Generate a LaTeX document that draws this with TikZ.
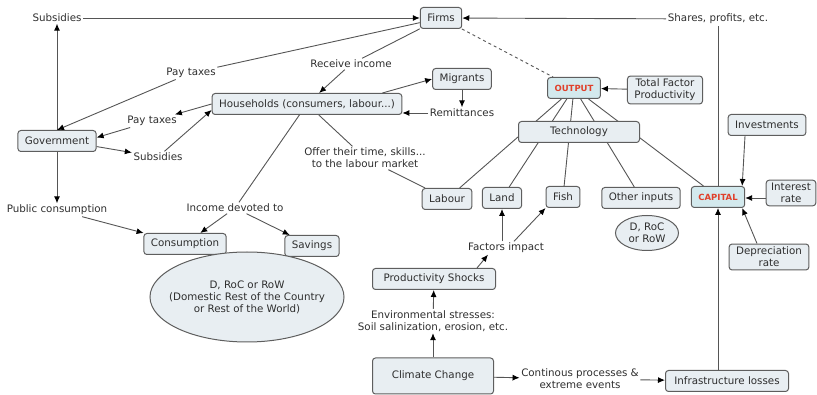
\documentclass[tikz,border=0pt]{standalone}
\usepackage{fontspec}
\setmainfont{DejaVu Sans}
\usetikzlibrary{arrows.meta,shapes.geometric}

\begin{document}
\begin{tikzpicture}[x=1pt,y=-1pt,
  every node/.style={text=txt,font=\fontsize{10.3}{12}\selectfont},
  concept/.style={draw=frame,fill=boxfill,rounded corners=3pt,line width=1pt,
    inner xsep=7pt,inner ysep=3pt,minimum height=21pt,align=center},
  keyconcept/.style={concept,fill=keyfill,text=keyred,font=\fontsize{8.5}{10}\selectfont\bfseries},
  region/.style={ellipse,draw=frame,fill=boxfill,line width=1pt,inner sep=0pt,align=center},
  phrase/.style={inner sep=1.5pt,align=center},
  link/.style={draw=wire,line width=0.9pt},
  arr/.style={link,-{Latex[length=7pt,width=6pt,color=black]}}]
  \definecolor{txt}{HTML}{2E2E2E}
  \definecolor{wire}{HTML}{555555}
  \definecolor{frame}{HTML}{5E5E5E}
  \definecolor{boxfill}{HTML}{E8EEF2}
  \definecolor{keyfill}{HTML}{D3E9ED}
  \definecolor{keyred}{HTML}{E0402A}
  \useasboundingbox (0,0) rectangle (817,395);

  \node [concept] (firms) at (441,18) {Firms};
  \node [phrase] (subtop) at (57,18) {Subsidies};
  \node [phrase] (shares) at (718,19) {Shares, profits, etc.};
  \node [concept] (gov) at (57,141) {Government};
  \node [phrase] (paytop) at (191,73) {Pay taxes};
  \node [phrase] (payhh) at (152,121) {Pay taxes};
  \node [phrase] (subhh) at (158,157) {Subsidies};
  \node [concept] (hh) at (307,104) {Households (consumers, labour...)};
  \node [phrase] (recv) at (351,64) {Receive income};
  \node [concept] (migr) at (462,79) {Migrants};
  \node [phrase] (remit) at (462,113) {Remittances};
  \node [phrase] (pubc) at (57,210) {Public consumption};
  \node [phrase] (incd) at (235,208) {Income devoted to};
  \node [concept] (cons) at (185,244) {Consumption};
  \node [concept] (sav) at (312,246) {Savings};
  \node [region,minimum width=194pt,minimum height=90pt] (domcons) at (247,297) {};
  \node [align=center] (domconstext) at (domcons) {D, RoC or RoW\\(Domestic Rest of the Country\\or Rest of the World)};
  \node [phrase] (offer) at (365,158) {Offer their time, skills...\\to the labour market};
  \node [keyconcept] (output) at (574,88) {OUTPUT};
  \node [concept] (tfp) at (665,90) {Total Factor\\Productivity};
  \node [concept] (labour) at (447,199) {Labour};
  \node [concept] (land) at (502,198) {Land};
  \node [concept] (fish) at (563,197) {Fish};
  \node [concept] (other) at (641,198) {Other inputs};
  \node [region,minimum width=63pt,minimum height=35pt] (domin) at (647,233) {D, RoC\\or RoW};
  \node [keyconcept] (capital) at (718,197) {CAPITAL};
  \node [concept] (invest) at (767,125) {Investments};
  \node [concept,inner xsep=5pt] (interest) at (791,193) {Interest\\rate};
  \node [concept] (deprec) at (769,257) {Depreciation\\rate};
  \node [phrase] (factors) at (506,248) {Factors impact};
  \node [concept,minimum width=123pt] (shocks) at (434,279) {Productivity Shocks};
  \node [phrase] (env) at (433,321) {Environmental stresses:\\Soil salinization, erosion, etc.};
  \node [concept,minimum width=121pt,minimum height=36pt] (climate) at (433,376) {Climate Change};
  \node [phrase] (cont) at (580,379) {Continous processes \&\\extreme events};
  \node [concept,minimum width=123pt] (infra) at (727,381) {Infrastructure losses};

  \draw [arr] (subtop) -- (firms);
  \draw [arr] (shares) -- (firms);
  \draw [link] (capital) -- (shares);
  \draw [arr] (gov) -- (subtop);
  \draw [link] (firms) -- (paytop);
  \draw [arr] (paytop) -- (gov.north);
  \draw [arr] (hh.west) -- (payhh);
  \draw [arr] (payhh) -- (gov.5);
  \draw [arr] (gov.-8) -- (subhh);
  \draw [arr] (subhh) -- ([yshift=-6pt]hh.west);
  \draw [arr] ([xshift=-20pt]hh.north east) -- (migr.west);
  \draw [arr] (migr) -- (remit);
  \draw [arr] (remit) -- (remit -| hh.east);
  \draw [link] (firms) -- (recv);
  \draw [arr] (recv) -- (hh);
  \draw [link] (hh) -- (incd);
  \draw [arr] (incd) -- (cons);
  \draw [arr] (incd) -- (sav);
  \draw [arr] (gov) -- (pubc);
  \draw [arr] (pubc) -- (cons);
  \draw [link] (hh) -- (offer);
  \draw [link] (offer) -- (labour);
  \draw [link,dashed] (firms) -- (output);
  \draw [arr] (tfp) -- (output);
  \foreach \f in {labour,land,fish,other,capital}
    \draw [link] (output) -- (\f);
  \node [concept,minimum width=121pt] (tech) at (579,132) {Technology};

  \coordinate (intin) at ([yshift=-5pt]interest.west);
  \draw [arr] ([xshift=-22pt]invest.south) -- ([xshift=-3pt]capital.north east);
  \draw [arr] (intin) -- (intin -| capital.east);
  \draw [arr] ([xshift=-12pt]deprec.north) -- ([xshift=-3pt]capital.south east);
  \draw [arr] (infra.north -| capital) -- (capital);
  \draw [arr] (climate) -- (cont);
  \draw [arr] (cont) -- (infra);
  \draw [arr] (climate) -- (env);
  \draw [arr] (env) -- (shocks);
  \draw [arr] ([xshift=43pt]shocks.north) -- ([xshift=-18pt]factors.south);
  \draw [arr] (factors.north -| land) -- (land);
  \draw [arr] ([xshift=8pt]factors.north) -- (fish.south west);
\end{tikzpicture}
\end{document}
